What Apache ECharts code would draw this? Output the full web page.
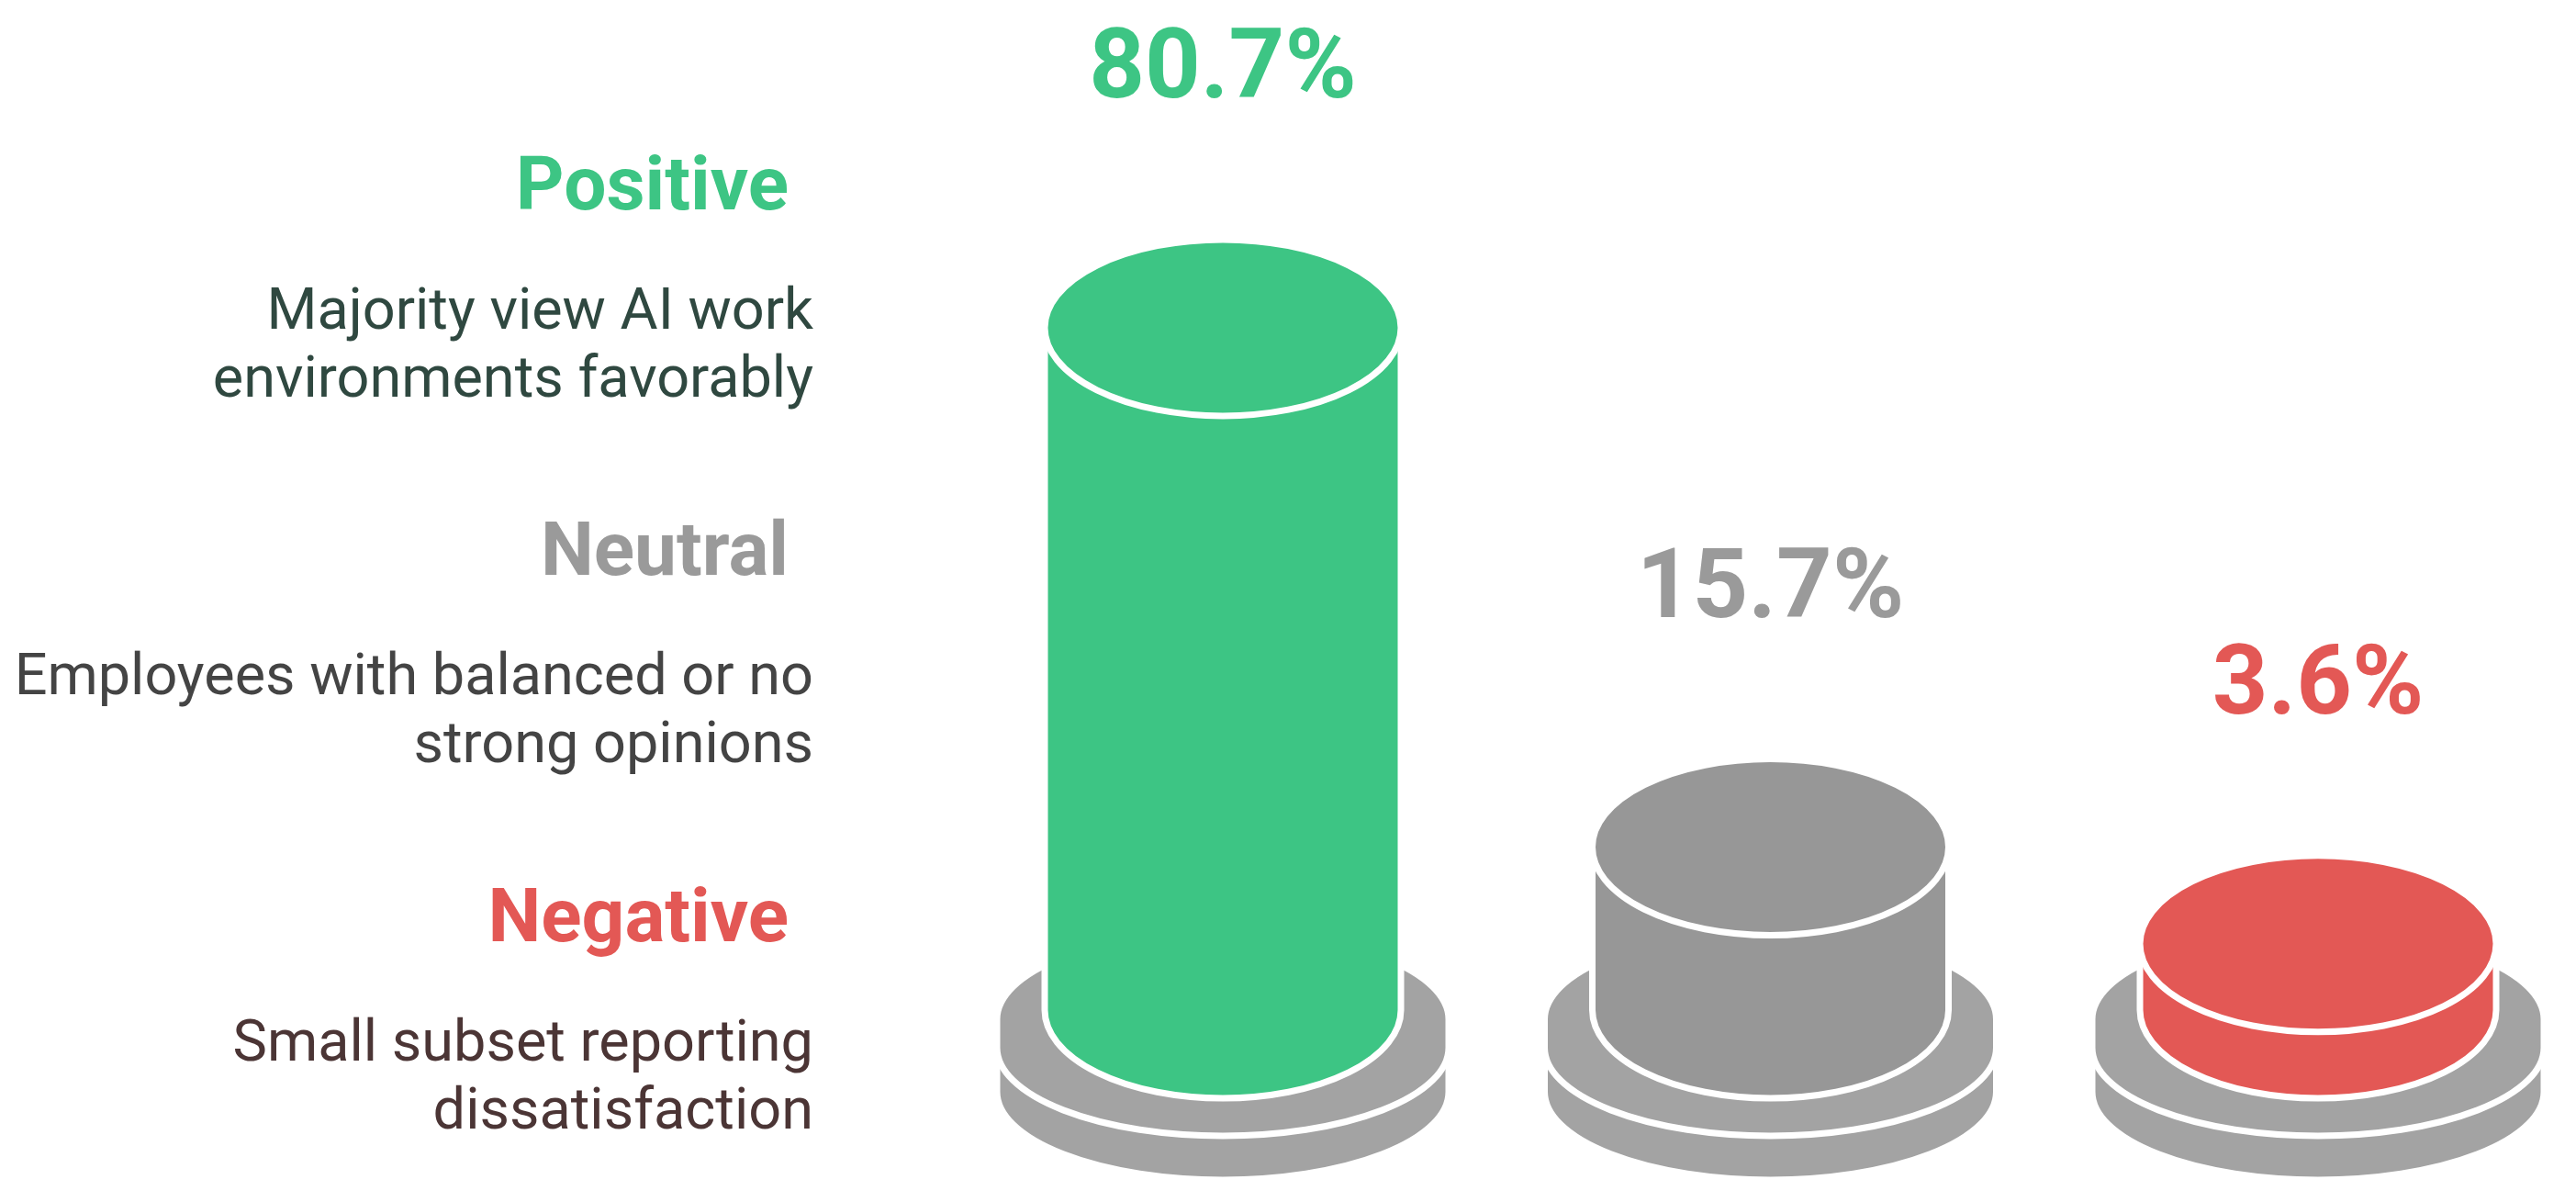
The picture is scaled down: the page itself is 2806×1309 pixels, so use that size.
<!DOCTYPE html>
<html>
<head>
<meta charset="utf-8">
<title>AI work environment sentiment</title>
<script src="https://cdn.jsdelivr.net/npm/echarts@6/dist/echarts.min.js"></script>
<style>
  html, body { margin: 0; padding: 0; background: #fff; }
  #chart { width: 2806px; height: 1309px; }
</style>
</head>
<body>
<div id="chart"></div>
<script>
// data
var categories = ['Positive', 'Neutral', 'Negative'];
var values = [80.7, 15.7, 3.6];
var descriptions = [
  'Majority view AI work\nenvironments favorably',
  'Employees with balanced or no\nstrong opinions',
  'Small subset reporting\ndissatisfaction'
];

// look
var fillColors = ['#3dc584', '#979797', '#e35855'];
var labelColors = ['#3dc584', '#9a9a9a', '#e35855'];
var descColors = ['#2f4840', '#444444', '#4b3535'];
var baseColor = '#a3a3a3';
var yMin = -4.7;

var chart = echarts.init(document.getElementById('chart'));

function ellipsePath(cx, cy, rx, ry) {
  return 'M' + (cx - rx) + ' ' + cy +
    ' A' + rx + ' ' + ry + ' 0 1 0 ' + (cx + rx) + ' ' + cy +
    ' A' + rx + ' ' + ry + ' 0 1 0 ' + (cx - rx) + ' ' + cy + ' Z';
}

// outline of a disk / cylinder seen from slightly above
function diskPath(cx, topY, botY, rx, ry) {
  return 'M' + (cx - rx) + ' ' + topY +
    ' A' + rx + ' ' + ry + ' 0 0 1 ' + (cx + rx) + ' ' + topY +
    ' L' + (cx + rx) + ' ' + botY +
    ' A' + rx + ' ' + ry + ' 0 0 1 ' + (cx - rx) + ' ' + botY + ' Z';
}

function renderItem(params, api) {
  var i = params.dataIndex;
  var top = api.coord([api.value(0), api.value(1)]);
  var bot = api.coord([api.value(0), yMin]);
  var cx = top[0];
  var rx = 194, ry = 96;
  var brx = 246, bry = 96;
  var stroke = { stroke: '#fff', lineWidth: 7 };

  return {
    type: 'group',
    children: [
      { type: 'path', shape: { pathData: diskPath(cx, bot[1] + 46, bot[1] + 89, brx, bry) },
        style: Object.assign({ fill: baseColor }, stroke) },
      { type: 'path', shape: { pathData: diskPath(cx, bot[1] + 10, bot[1] + 41, brx, bry) },
        style: Object.assign({ fill: baseColor }, stroke) },
      { type: 'path', shape: { pathData: diskPath(cx, top[1], bot[1], rx, ry) },
        style: Object.assign({ fill: fillColors[i] }, stroke) },
      { type: 'path', shape: { pathData: ellipsePath(cx, top[1], rx, ry) },
        style: Object.assign({ fill: fillColors[i] }, stroke) },
      { type: 'text',
        style: {
          text: api.value(1) + '%', x: cx, y: top[1] - ry - 181,
          align: 'center', verticalAlign: 'middle',
          textAlign: 'center', textVerticalAlign: 'middle',
          fontFamily: 'Roboto', fontWeight: 'bold', fontSize: 106,
          fill: labelColors[i]
        } }
    ]
  };
}

// left hand legend texts
var graphics = [];
categories.forEach(function (c, i) {
  graphics.push({
    type: 'text', x: 859, y: 207 + i * 398.5,
    style: {
      text: c, align: 'right', verticalAlign: 'middle',
      textAlign: 'right', textVerticalAlign: 'middle',
      fontFamily: 'Roboto', fontWeight: 'bold', fontSize: 82,
      fill: labelColors[i]
    }
  });
  graphics.push({
    type: 'text', x: 886, y: 379 + i * 398.5,
    style: {
      text: descriptions[i], align: 'right', verticalAlign: 'middle',
      textAlign: 'right', textVerticalAlign: 'middle',
      fontFamily: 'Roboto', fontSize: 63, lineHeight: 74,
      fill: descColors[i]
    }
  });
});

chart.setOption({
  backgroundColor: '#fff',
  animation: false,
  grid: { left: 1332, right: 281, top: 189, bottom: 209 },
  xAxis: {
    type: 'category',
    data: categories,
    boundaryGap: false,
    show: false
  },
  yAxis: {
    type: 'value',
    min: yMin,
    max: 100,
    show: false
  },
  graphic: graphics,
  series: [{
    type: 'custom',
    renderItem: renderItem,
    data: values.map(function (v, i) { return [i, v]; })
  }]
});
</script>
</body>
</html>
